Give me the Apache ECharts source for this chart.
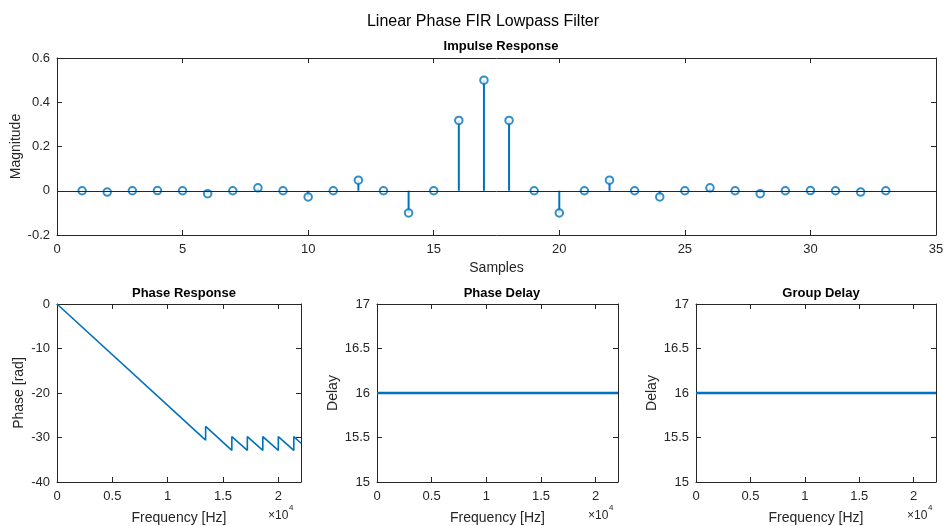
<!DOCTYPE html>
<html>
<head>
<meta charset="utf-8">
<script src="https://cdn.jsdelivr.net/npm/echarts@6/dist/echarts.min.js"></script>
<style>
  html, body { margin: 0; padding: 0; background: #fff; }
  #chart { width: 945px; height: 526px; }
</style>
</head>
<body>
<div id="chart"></div>
<script>
// impulse response, samples 1..33
const samples = [1, 2, 3, 4, 5, 6, 7, 8, 9, 10, 11, 12, 13, 14, 15, 16, 17,
  18, 19, 20, 21, 22, 23, 24, 25, 26, 27, 28, 29, 30, 31, 32, 33];
const impulse = [0, -0.006, 0, 0.001, 0, -0.013, 0, 0.013, 0, -0.028, 0, 0.048, 0, -0.1, 0, 0.318, 0.5,
  0.318, 0, -0.1, 0, 0.048, 0, -0.028, 0, 0.013, 0, -0.013, 0, 0.001, 0, -0.006, 0];

// unwrapped phase (vertices)
const phaseFreq = [0, 13430, 13430, 15800, 15800, 17200, 17200, 18600, 18600, 20000, 20000, 21400, 21400, 22050];
const phaseRad = [0, -30.6, -27.5, -32.9, -29.8, -32.9, -29.8, -32.9, -29.8, -32.9, -29.8, -32.9, -29.8, -31.3];

// phase delay / group delay
const delayFreq = [0, 22050];
const phaseDelay = [16, 16];
const groupDelay = [16, 16];

const freqTicks = ['0', '0.5', '1', '1.5', '2'];

const txt = '#262626';
const blue = '#0072BD';
const font = 'Liberation Sans, Arial, Helvetica, sans-serif';

const chart = echarts.init(document.getElementById('chart'));

function xAxes(grid, min, max, interval, name, gap, fmt) {
  const base = {
    gridIndex: grid, type: 'value', min: min, max: max, interval: interval,
    axisLine: { show: true, onZero: false, lineStyle: { color: txt, width: 1 } },
    axisTick: { show: true, inside: true, length: 5, lineStyle: { color: txt } },
    splitLine: { show: false }
  };
  return [
    Object.assign({}, base, {
      position: 'bottom',
      name: name, nameLocation: 'middle', nameGap: gap, nameMoveOverlap: false,
      nameTextStyle: { color: txt, fontSize: 14, fontFamily: font },
      axisLabel: { color: txt, fontSize: 13, fontFamily: font, margin: 8, formatter: fmt }
    }),
    Object.assign({}, base, { position: 'top', axisLabel: { show: false } })
  ];
}

function yAxes(grid, min, max, interval, name, gap) {
  const base = {
    gridIndex: grid, type: 'value', min: min, max: max, interval: interval,
    axisLine: { show: true, onZero: false, lineStyle: { color: txt, width: 1 } },
    axisTick: { show: true, inside: true, length: 5, lineStyle: { color: txt } },
    splitLine: { show: false }
  };
  return [
    Object.assign({}, base, {
      position: 'left',
      name: name, nameLocation: 'middle', nameGap: gap, nameMoveOverlap: false,
      nameTextStyle: { color: txt, fontSize: 14, fontFamily: font },
      axisLabel: { color: txt, fontSize: 13, fontFamily: font, margin: 7 }
    }),
    Object.assign({}, base, { position: 'right', axisLabel: { show: false } })
  ];
}

const freqFmt = function (v) {
  if (v % 5000 !== 0) return '';
  return freqTicks[v / 5000];
};

const subTitle = function (text, x, y) {
  return {
    text: text, left: x, top: y, textAlign: 'center',
    textStyle: { color: '#000', fontSize: 13, fontWeight: 'bold', fontFamily: font }
  };
};

const option = {
  backgroundColor: '#fff',
  animation: false,
  title: [
    { text: 'Linear Phase FIR Lowpass Filter', left: 478, top: 9, textAlign: 'center',
      textStyle: { color: '#000', fontSize: 16, fontWeight: 'normal', fontFamily: font } },
    subTitle('Impulse Response', 496, 35),
    subTitle('Phase Response', 179, 282),
    subTitle('Phase Delay', 497, 282),
    subTitle('Group Delay', 816, 282)
  ],
  grid: [
    { left: 57, top: 58, width: 879, height: 177, outerBoundsMode: 'none' },
    { left: 57, top: 304, width: 244, height: 178, outerBoundsMode: 'none' },
    { left: 377, top: 304, width: 241, height: 178, outerBoundsMode: 'none' },
    { left: 696, top: 304, width: 240, height: 178, outerBoundsMode: 'none' }
  ],
  xAxis: [].concat(
    xAxes(0, 0, 35, 5, 'Samples', 26),
    xAxes(1, 0, 22050, 5000, 'Frequency [Hz]', 29, freqFmt),
    xAxes(2, 0, 22050, 5000, 'Frequency [Hz]', 29, freqFmt),
    xAxes(3, 0, 22050, 5000, 'Frequency [Hz]', 29, freqFmt)
  ),
  yAxis: [].concat(
    yAxes(0, -0.2, 0.6, 0.2, 'Magnitude', 34),
    yAxes(1, -40, 0, 10, 'Phase [rad]', 31),
    yAxes(2, 15, 17, 0.5, 'Delay', 37),
    yAxes(3, 15, 17, 0.5, 'Delay', 37)
  ),
  graphic: [
    { type: 'text', left: 268, top: 510, style: { text: '×10', fill: txt, font: '12px ' + font } },
    { type: 'text', left: 289, top: 504, style: { text: '4', fill: txt, font: '8px ' + font } },
    { type: 'text', left: 588, top: 510, style: { text: '×10', fill: txt, font: '12px ' + font } },
    { type: 'text', left: 609, top: 504, style: { text: '4', fill: txt, font: '8px ' + font } },
    { type: 'text', left: 907, top: 510, style: { text: '×10', fill: txt, font: '12px ' + font } },
    { type: 'text', left: 928, top: 504, style: { text: '4', fill: txt, font: '8px ' + font } }
  ],
  series: [
    {
      type: 'custom', xAxisIndex: 0, yAxisIndex: 0,
      data: samples.map((s, i) => [s, impulse[i]]),
      renderItem: function (params, api) {
        const p0 = api.coord([api.value(0), 0]);
        const p1 = api.coord([api.value(0), api.value(1)]);
        return {
          type: 'line',
          shape: { x1: p0[0], y1: p0[1], x2: p1[0], y2: p1[1] },
          style: { stroke: blue, lineWidth: 2 }
        };
      },
      z: 2
    },
    {
      type: 'scatter', xAxisIndex: 0, yAxisIndex: 0,
      data: samples.map((s, i) => [s, impulse[i]]),
      symbol: 'emptyCircle', symbolSize: 7.5,
      itemStyle: { color: blue, borderColor: blue, borderWidth: 2.4 },
      markLine: {
        silent: true, symbol: 'none', label: { show: false },
        lineStyle: { color: txt, width: 1, type: 'solid' },
        data: [{ yAxis: 0 }]
      },
      z: 3
    },
    {
      type: 'line', xAxisIndex: 2, yAxisIndex: 2,
      data: phaseFreq.map((f, i) => [f, phaseRad[i]]),
      showSymbol: false, lineStyle: { color: blue, width: 1.6 }
    },
    {
      type: 'line', xAxisIndex: 4, yAxisIndex: 4,
      data: delayFreq.map((f, i) => [f, phaseDelay[i]]),
      showSymbol: false, lineStyle: { color: blue, width: 2.5 }
    },
    {
      type: 'line', xAxisIndex: 6, yAxisIndex: 6,
      data: delayFreq.map((f, i) => [f, groupDelay[i]]),
      showSymbol: false, lineStyle: { color: blue, width: 2.5 }
    }
  ]
};

chart.setOption(option);
</script>
</body>
</html>
